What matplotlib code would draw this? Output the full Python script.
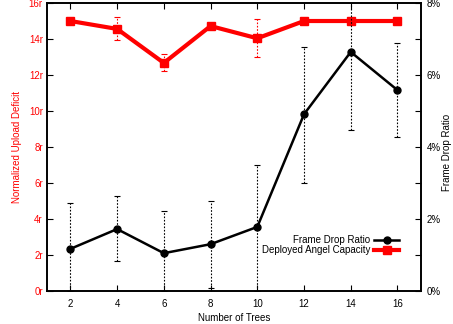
"""
Frame drop ratio vs deployed angel capacity over number of trees
"""

import matplotlib.pyplot as plt
from matplotlib.lines import Line2D

plt.rcParams["font.family"] = ["Liberation Sans", "DejaVu Sans"]
plt.rcParams["font.size"] = 7

trees = [2, 4, 6, 8, 10, 12, 14, 16]

# frame drop ratio (percent), right axis
drop = [1.17, 1.72, 1.05, 1.30, 1.78, 4.91, 6.64, 5.58]
drop_low = [1.17, 0.88, 1.05, 1.21, 1.78, 1.91, 2.17, 1.30]
drop_high = [1.28, 0.92, 1.18, 1.20, 1.72, 1.87, 1.40, 1.30]

# deployed angel capacity (r), left axis
capacity = [15.0, 14.56, 12.67, 14.72, 14.04, 15.0, 15.0, 15.0]
cap_low = [0.0, 0.62, 0.45, 0.16, 1.06, 0.0, 0.0, 0.0]
cap_high = [0.0, 0.64, 0.48, 0.11, 1.07, 0.0, 0.0, 0.0]

fig = plt.figure(figsize=(4.53, 3.24), dpi=100)
ax = fig.add_axes([0.1038, 0.1019, 0.8252, 0.8888])
ax2 = ax.twinx()

# red series on the left axis
eb = ax.errorbar(trees, capacity, yerr=[cap_low, cap_high], color="#ff0000",
                 linewidth=3, marker="s", markersize=6, elinewidth=0.8,
                 capsize=2, capthick=0.8, zorder=3)
eb[2][0].set_linestyle((0, (1.5, 1.5)))

# black series on the right axis
eb2 = ax2.errorbar(trees, drop, yerr=[drop_low, drop_high], color="black",
                   linewidth=1.8, marker="o", markersize=5, elinewidth=0.8,
                   capsize=2, capthick=0.8, zorder=3)
eb2[2][0].set_linestyle((0, (1.5, 1.5)))

ax.set_xlim(1, 17)
ax.set_ylim(0, 16)
ax2.set_ylim(0, 8)

ax.set_xticks(trees)
ax.set_yticks(range(0, 17, 2))
ax.set_yticklabels([f"{v}r" for v in range(0, 17, 2)], color="#ff0000")
ax2.set_yticks(range(0, 9))
ax2.set_yticklabels([f"{v}%" if v % 2 == 0 else "" for v in range(0, 9)])

ax.tick_params(axis="x", direction="in", top=True, length=4, pad=6)
ax.tick_params(axis="y", direction="in", length=4, pad=3)
ax2.tick_params(axis="y", direction="in", length=4, pad=4)

for a in (ax, ax2):
    for s in a.spines.values():
        s.set_linewidth(1.2)

ax.set_xlabel("Number of Trees", labelpad=3)
ax.set_ylabel("Normalized Upload Deficit", color="#ff0000", labelpad=5)
# right label placed by hand so it stays inside the canvas
fig.text(447 / 453, 0.53, "Frame Drop Ratio", rotation=90,
         ha="center", va="center")

handles = [
    Line2D([], [], color="black", linewidth=1.8, marker="o", markersize=5),
    Line2D([], [], color="#ff0000", linewidth=3, marker="s", markersize=6),
]
ax2.legend(handles, ["Frame Drop Ratio", "Deployed Angel Capacity"],
           loc="center right", bbox_to_anchor=(0.955, 0.16), frameon=False,
           markerfirst=False, handlelength=2.6, labelspacing=0.0,
           handletextpad=0.4, borderpad=0, fontsize=7)

plt.savefig("out.png", dpi=100)
plt.close()
